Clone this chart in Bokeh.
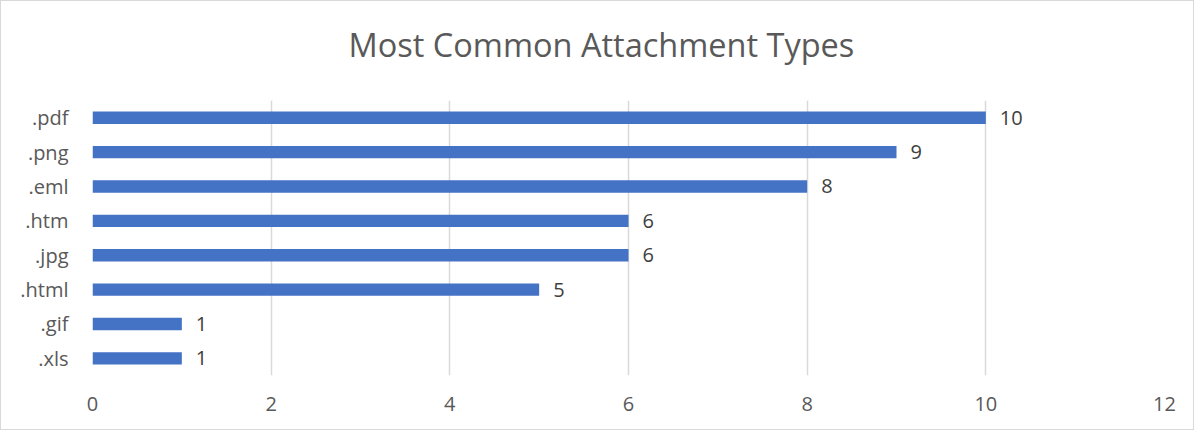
from bokeh.plotting import figure
from bokeh.models import ColumnDataSource, FixedTicker, Range1d, Title
from bokeh.embed import file_html
from bokeh.resources import INLINE
from bokeh.core.properties import value

title_text = "Most Common Attachment Types"
categories = [".xls", ".gif", ".html", ".jpg", ".htm", ".eml", ".png", ".pdf"]
counts = [1, 1, 5, 6, 6, 8, 9, 10]
x_ticks = [0, 2, 4, 6, 8, 10, 12]

FONT = "Open Sans"
source = ColumnDataSource(dict(cat=categories, n=counts, lbl=[str(c) for c in counts]))

p = figure(
    width=1194, height=430,
    y_range=categories,
    x_range=Range1d(0, 12),
    output_backend="svg",
    toolbar_location=None,
    min_border_left=91, min_border_right=31,
    min_border_top=99, min_border_bottom=56,
)
p.styles = {"border": "1px solid #d9d9d9"}

# spacer between the title and the plot area
p.add_layout(Title(text=" ", text_font_size="1px", standoff=25), "above")

p.title.text = title_text
p.title.align = "left"
p.title.offset = 256
p.title.vertical_align = "middle"
p.title.text_font = FONT
p.title.text_font_size = "32.5px"
p.title.text_font_style = "normal"
p.title.text_color = "#595959"
p.title.standoff = 10

p.hbar(y="cat", right="n", left=0, height=0.36, source=source,
       fill_color="#4472C4", line_color=None)

p.text(x="n", y="cat", text="lbl", source=source, x_offset=14,
       text_baseline="middle", text_align="left",
       text_font=value(FONT), text_font_size="20px", text_color="#404040")

p.outline_line_color = None
p.ygrid.grid_line_color = None
p.xgrid.grid_line_color = "#d9d9d9"
p.xgrid.grid_line_width = 1.5
p.xaxis.ticker = FixedTicker(ticks=x_ticks)

for ax in (p.xaxis, p.yaxis):
    ax.axis_line_color = None
    ax.major_tick_line_color = None
    ax.minor_tick_line_color = None
    ax.major_label_text_font = FONT
    ax.major_label_text_font_size = "20px"
    ax.major_label_text_color = "#595959"

p.xaxis.major_label_standoff = 15
p.yaxis.major_label_standoff = 18
p.y_range.range_padding = 0

open("out.html", "w").write(file_html(p, INLINE))
